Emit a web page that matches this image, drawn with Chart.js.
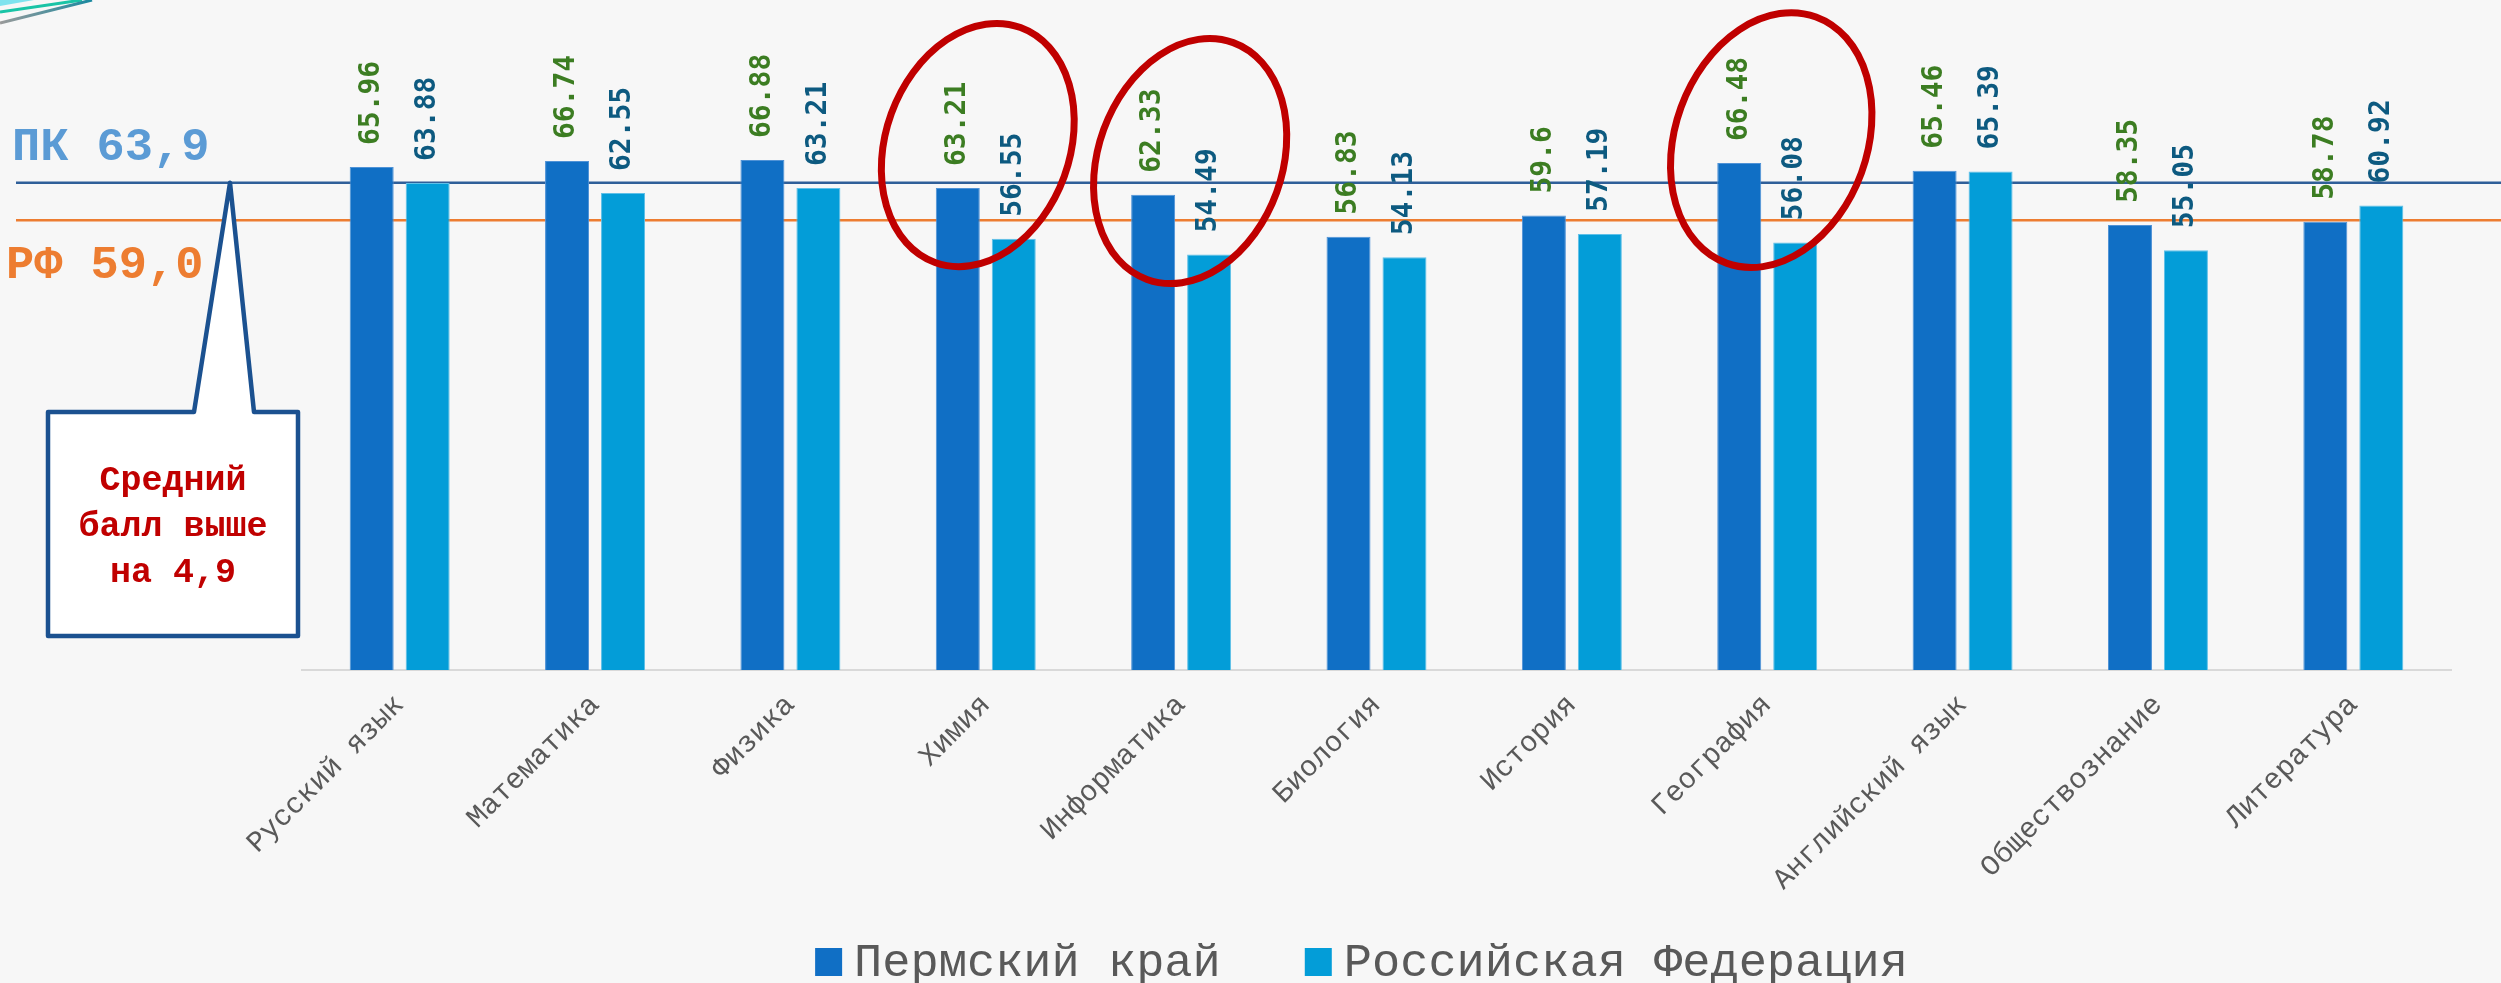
<!DOCTYPE html>
<html lang="ru">
<head>
<meta charset="utf-8">
<title>Средний балл ЕГЭ</title>
<script src="https://cdn.jsdelivr.net/npm/chart.js@4.4.1/dist/chart.umd.min.js"></script>
<style>
  html, body { margin: 0; padding: 0; background: #f7f7f7; }
  #wrap { width: 2501px; height: 983px; }
</style>
</head>
<body>
<div id="wrap"><canvas id="scoreChart" width="2501" height="983"></canvas></div>
<script>
const subjects = ["Русский язык", "Математика", "Физика", "Химия", "Информатика", "Биология", "История", "География", "Английский язык", "Обществознание", "Литература"];
const permScores = [65.96, 66.74, 66.88, 63.21, 62.33, 56.83, 59.6, 66.48, 65.46, 58.35, 58.78];
const russiaScores = [63.88, 62.55, 63.21, 56.55, 54.49, 54.13, 57.19, 56.08, 65.39, 55.05, 60.92];
const seriesNames = ["Пермский край", "Российская Федерация"];
const permAverage = 63.9;
const russiaAverage = 59.0;
const averageLabels = ["ПК 63,9", "РФ 59,0"];
const calloutLines = ["Средний", "балл выше", "на 4,9"];
const highlighted = ["Химия", "Информатика", "География"];

const barColors = ["#106fc5", "#039dd8"];
const valueColors = ["#3c7d22", "#0d5a80"];
const mono = "'Liberation Mono', 'Courier New', monospace";

// hand-drawn look of the red rings: shift from the group centre, centre height on the y scale, radii
const ringStyle = {
  "Химия": { dx: -8, at: 68.85, rx: 92, ry: 125 },
  "Информатика": { dx: 9, at: 66.75, rx: 92, ry: 126 },
  "География": { dx: 4, at: 69.5, rx: 96, ry: 131 }
};

// background, average lines and their captions (behind the bars)
const backdrop = {
  id: "backdrop",
  beforeDraw(chart) {
    const { ctx, width, height } = chart;
    ctx.save();
    ctx.fillStyle = "#f7f7f7";
    ctx.fillRect(0, 0, width, height);
    // slide decoration in the corner
    ctx.fillStyle = "#7fe3ee";
    ctx.beginPath();
    ctx.moveTo(0, 0); ctx.lineTo(34, 0); ctx.lineTo(0, 6); ctx.fill();
    ctx.lineWidth = 3;
    ctx.strokeStyle = "#19c4a6";
    ctx.beginPath(); ctx.moveTo(0, 12); ctx.lineTo(82, 0); ctx.stroke();
    const g = ctx.createLinearGradient(0, 22, 90, 0);
    g.addColorStop(0, "#9a9a9a");
    g.addColorStop(1, "#1c8aa0");
    ctx.strokeStyle = g;
    ctx.beginPath(); ctx.moveTo(0, 23); ctx.lineTo(92, 0); ctx.stroke();
    ctx.restore();
  },
  beforeDatasetsDraw(chart) {
    const { ctx, width } = chart;
    const y = chart.scales.y;
    const pkY = y.getPixelForValue(permAverage);
    const rfY = y.getPixelForValue(russiaAverage);
    ctx.save();
    ctx.lineWidth = 2.5;
    ctx.strokeStyle = "#2f5f99";
    ctx.beginPath(); ctx.moveTo(16, pkY); ctx.lineTo(width, pkY); ctx.stroke();
    ctx.strokeStyle = "#ed7d31";
    ctx.beginPath(); ctx.moveTo(16, rfY); ctx.lineTo(width, rfY); ctx.stroke();

    ctx.font = "bold 47px " + mono;
    ctx.textAlign = "left";
    ctx.textBaseline = "alphabetic";
    ctx.fillStyle = "#5b9bd5";
    ctx.fillText(averageLabels[0], 12, pkY - 23);
    ctx.fillStyle = "#ed7d31";
    ctx.fillText(averageLabels[1], 6, rfY + 58);
    ctx.restore();
  }
};

// value labels, red rings, callout and legend
const overlay = {
  id: "overlay",
  afterDatasetsDraw(chart) {
    const { ctx } = chart;
    const xs = chart.scales.x, ys = chart.scales.y;
    ctx.save();
    ctx.font = "bold 28px 'DejaVu Sans Mono', monospace";
    ctx.textAlign = "left";
    ctx.textBaseline = "middle";
    chart.data.datasets.forEach((ds, di) => {
      const meta = chart.getDatasetMeta(di);
      ctx.fillStyle = valueColors[di];
      meta.data.forEach((bar, i) => {
        ctx.save();
        ctx.translate(bar.x, bar.y - 22);
        ctx.rotate(-Math.PI / 2);
        ctx.fillText(String(ds.data[i]), 0, 0);
        ctx.restore();
      });
    });

    ctx.strokeStyle = "#c00000";
    ctx.lineWidth = 7;
    highlighted.forEach(name => {
      const s = ringStyle[name];
      const cx = xs.getPixelForValue(subjects.indexOf(name)) + s.dx;
      const cy = ys.getPixelForValue(s.at);
      ctx.beginPath();
      ctx.ellipse(cx, cy, s.rx, s.ry, 20 * Math.PI / 180, 0, Math.PI * 2);
      ctx.stroke();
    });

    // callout box pointing at the regional average line
    const tipY = ys.getPixelForValue(permAverage);
    const box = { l: 48, t: 412, r: 298, b: 636 };
    ctx.beginPath();
    ctx.moveTo(box.l, box.t);
    ctx.lineTo(194, box.t);
    ctx.lineTo(230, tipY);
    ctx.lineTo(254, box.t);
    ctx.lineTo(box.r, box.t);
    ctx.lineTo(box.r, box.b);
    ctx.lineTo(box.l, box.b);
    ctx.closePath();
    ctx.fillStyle = "#ffffff";
    ctx.fill();
    ctx.lineJoin = "round";
    ctx.lineWidth = 4.5;
    ctx.strokeStyle = "#1b5190";
    ctx.stroke();

    ctx.fillStyle = "#c00000";
    ctx.font = "bold 35px " + mono;
    ctx.textAlign = "center";
    ctx.textBaseline = "middle";
    calloutLines.forEach((line, k) => {
      ctx.fillText(line, (box.l + box.r) / 2, 481 + k * 46);
    });
    ctx.restore();
  },
  afterDraw(chart) {
    const { ctx, chartArea } = chart;
    ctx.save();
    ctx.font = "47px " + mono;
    ctx.textBaseline = "alphabetic";
    ctx.textAlign = "left";
    const box = 27, gapText = 12, gapItem = 84;
    const widths = seriesNames.map(n => ctx.measureText(n).width);
    const total = widths.reduce((s, w) => s + box + gapText + w, 0) + gapItem;
    let x = (chartArea.left + chartArea.right) / 2 - 15 - total / 2;
    const baseY = 976;
    seriesNames.forEach((name, i) => {
      ctx.fillStyle = barColors[i];
      ctx.fillRect(x, baseY - 28, box, 28);
      ctx.fillStyle = "#595959";
      ctx.fillText(name, x + box + gapText, baseY);
      x += box + gapText + widths[i] + gapItem;
    });
    ctx.restore();
  }
};

new Chart(document.getElementById("scoreChart"), {
  type: "bar",
  data: {
    labels: subjects,
    datasets: [
      { label: seriesNames[0], data: permScores, backgroundColor: barColors[0], borderColor: "#4f92d6", borderWidth: 1 },
      { label: seriesNames[1], data: russiaScores, backgroundColor: barColors[1], borderColor: "#5fc0e8", borderWidth: 1 }
    ]
  },
  options: {
    responsive: false,
    animation: false,
    categoryPercentage: 0.573,
    barPercentage: 0.786,
    layout: { padding: { left: 302, right: 50, top: 60, bottom: 73 } },
    plugins: {
      legend: { display: false },
      tooltip: { enabled: false }
    },
    scales: {
      y: { display: false, min: 0, max: 80 },
      x: {
        grid: { display: false },
        border: { color: "#d9d9d9", width: 2 },
        ticks: {
          autoSkip: false,
          minRotation: 45,
          maxRotation: 45,
          padding: 10,
          color: "#595959",
          font: { family: mono, size: 29 }
        },
        afterFit(scale) { scale.height = 240; }
      }
    }
  },
  plugins: [backdrop, overlay]
});
</script>
</body>
</html>
